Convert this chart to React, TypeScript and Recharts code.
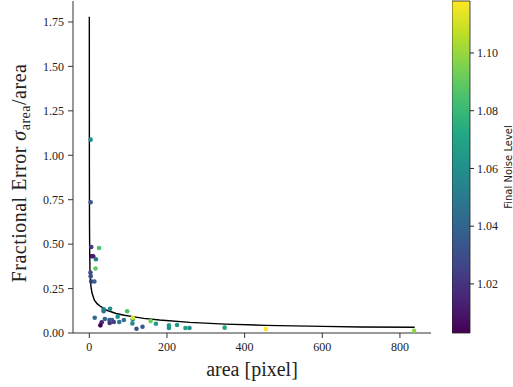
import React from 'react';
import { ComposedChart, Scatter, Line, XAxis, YAxis, ReferenceArea } from 'recharts';

// Fitted curve (area vs fractional error)
const curveX = [0.05, 0.1, 0.2, 0.5, 1, 1.8, 3, 4.3, 7, 13, 20, 30, 45, 69, 90, 112, 140, 181, 259, 350, 454, 600, 700, 838];
const curveY = [1.78, 1.3, 0.95, 0.62, 0.45, 0.353, 0.295, 0.26, 0.225, 0.185, 0.165, 0.148, 0.128, 0.11, 0.1, 0.092, 0.082, 0.073, 0.06, 0.05, 0.043, 0.037, 0.034, 0.032];

// Measured points
const pointX = [3.4, 3.5, 5, 25, 6, 10, 17, 16, 3, 3.5, 5, 13, 14, 37, 37, 53.5, 97.5, 73, 40, 32, 28.5, 52, 52.5, 58.5, 63, 77, 89, 112, 111, 112, 121.5, 137, 158, 171.5, 205, 205, 226, 247.5, 258, 348.5, 454.5, 836.5];
const pointY = [1.088, 0.736, 0.484, 0.478, 0.432, 0.432, 0.415, 0.363, 0.34, 0.32, 0.29, 0.29, 0.086, 0.133, 0.123, 0.136, 0.122, 0.092, 0.079, 0.06, 0.043, 0.073, 0.056, 0.073, 0.062, 0.062, 0.073, 0.077, 0.054, 0.086, 0.024, 0.035, 0.067, 0.052, 0.043, 0.028, 0.045, 0.028, 0.028, 0.03, 0.022, 0.013];
const pointNoise = [1.058, 1.035, 1.022, 1.085, 1.005, 1.012, 1.052, 1.09, 1.03, 1.03, 1.02, 1.04, 1.042, 1.055, 1.048, 1.06, 1.085, 1.062, 1.04, 1.015, 1.003, 1.035, 1.02, 1.04, 1.025, 1.048, 1.045, 1.06, 1.058, 1.112, 1.032, 1.035, 1.092, 1.065, 1.068, 1.06, 1.062, 1.068, 1.06, 1.07, 1.118, 1.098];

const xTicks = [0, 200, 400, 600, 800];
const yTicks = [0, 0.25, 0.5, 0.75, 1.0, 1.25, 1.5, 1.75];
const cbTicks = [1.02, 1.04, 1.06, 1.08, 1.1];
const NOISE_MIN = 1.003;
const NOISE_MAX = 1.118;

const VIRIDIS = ['#440154', '#482475', '#414487', '#355f8d', '#2a788e', '#21918c', '#22a884', '#44bf70', '#7ad151', '#bddf26', '#fde725'];

function hexToRgb(h: string) {
  return [parseInt(h.slice(1, 3), 16), parseInt(h.slice(3, 5), 16), parseInt(h.slice(5, 7), 16)];
}
function viridis(v: number) {
  let t = (v - NOISE_MIN) / (NOISE_MAX - NOISE_MIN);
  t = Math.max(0, Math.min(1, t));
  const f = t * (VIRIDIS.length - 1);
  const i = Math.min(VIRIDIS.length - 2, Math.floor(f));
  const r = f - i;
  const a = hexToRgb(VIRIDIS[i]);
  const b = hexToRgb(VIRIDIS[i + 1]);
  const c = a.map((av, k) => Math.round(av + (b[k] - av) * r));
  return `rgb(${c[0]},${c[1]},${c[2]})`;
}

const curveData = curveX.map((x, i) => ({ x, y: curveY[i] }));
const pointData = pointX.map((x, i) => ({ x, y: pointY[i], c: pointNoise[i] }));

const SERIF = '"Liberation Serif", "DejaVu Serif", serif';
const frame = '#333';
const TXT = '#222';

const Dot = (props: any) => {
  const { cx, cy, payload } = props;
  if (cx == null || cy == null) return null;
  return <circle cx={cx} cy={cy} r={2.3} fill={viridis(payload.c)} />;
};

const XTick = (props: any) => {
  const { x, y, payload } = props;
  return (
    <text x={x} y={y} dy="0.71em" textAnchor="middle" fontFamily={SERIF} fontSize={12} fill={TXT}>
      {String(payload.value)}
    </text>
  );
};

const YTick = (props: any) => {
  const { x, y, payload } = props;
  return (
    <text x={x} y={y} dy="0.355em" textAnchor="end" fontFamily={SERIF} fontSize={12} fill={TXT}>
      {Number(payload.value).toFixed(2)}
    </text>
  );
};

const CbTick = (props: any) => {
  const { x, y, payload } = props;
  return (
    <text x={x} y={y} dy="0.355em" textAnchor="start" fontFamily={SERIF} fontSize={12} fill={TXT}>
      {Number(payload.value).toFixed(2)}
    </text>
  );
};

const XLabel = (props: any) => {
  const vb = props.viewBox || { x: 73, y: 333, width: 358, height: 54 };
  return (
    <text x={vb.x + vb.width / 2} y={vb.y + 43} textAnchor="middle" fontFamily={SERIF} fontSize={20} fill={TXT}>
      area [pixel]
    </text>
  );
};

const YLabel = (props: any) => {
  const vb = props.viewBox || { x: 0, y: 1, width: 73, height: 332 };
  const cx = vb.x + 26;
  const cy = vb.y + vb.height / 2 + 6;
  return (
    <text transform={`translate(${cx},${cy}) rotate(-90)`} textAnchor="middle" fontFamily={SERIF} fontSize={20} fill={TXT} letterSpacing={0.5}>
      <tspan>Fractional Error </tspan>
      <tspan fontStyle="italic">σ</tspan>
      <tspan fontSize={14} dy={4}>area</tspan>
      <tspan dy={-4}>/area</tspan>
    </text>
  );
};

const CbLabel = (props: any) => {
  const vb = props.viewBox || { x: 18, y: 1, width: 43, height: 332 };
  return (
    <text transform={`translate(${vb.x + 41.5},${vb.y + vb.height / 2}) rotate(-90)`} textAnchor="middle" fontFamily='"DejaVu Sans", sans-serif' fontSize={10} fill={TXT}>
      Final Noise Level
    </text>
  );
};

export default function App() {
  return (
    <div style={{ position: 'absolute', left: 0, top: 0, width: 513, height: 387, background: '#fff' }}>
      <div style={{ position: 'absolute', left: 0, top: 0 }}>
        <ComposedChart width={513} height={387} margin={{ top: 1, right: 82, bottom: 0, left: 0 }}>
          <XAxis
            dataKey="x"
            type="number"
            domain={[-42, 880]}
            ticks={xTicks}
            allowDataOverflow
            height={54}
            tick={<XTick />}
            tickSize={5}
            tickMargin={4}
            stroke={frame}
            label={<XLabel />}
          />
          <XAxis xAxisId="top" orientation="top" type="number" domain={[-42, 880]} height={0} tick={false} tickLine={false} stroke={frame} />
          <YAxis
            type="number"
            domain={[0, 1.868]}
            ticks={yTicks}
            allowDataOverflow
            width={73}
            tick={<YTick />}
            tickSize={5}
            tickMargin={4}
            stroke={frame}
            label={<YLabel />}
          />
          <YAxis yAxisId="right" orientation="right" type="number" domain={[0, 1]} width={0} tick={false} tickLine={false} stroke={frame} />
          <Scatter data={pointData} dataKey="y" shape={<Dot />} isAnimationActive={false} />
          <Line data={curveData} dataKey="y" type="linear" stroke="#000" strokeWidth={1.4} dot={false} activeDot={false} isAnimationActive={false} />
        </ComposedChart>
      </div>
      <div style={{ position: 'absolute', left: 452, top: 0 }}>
        <ComposedChart width={61} height={387} margin={{ top: 1, right: 0, bottom: 54, left: 0 }}>
          <defs>
            <linearGradient id="viridisGrad" x1="0" y1="1" x2="0" y2="0">
              {VIRIDIS.map((c, i) => (
                <stop key={i} offset={`${(i / (VIRIDIS.length - 1)) * 100}%`} stopColor={c} />
              ))}
            </linearGradient>
          </defs>
          <XAxis type="number" dataKey="x" domain={[0, 1]} hide />
          <YAxis
            type="number"
            orientation="right"
            domain={[NOISE_MIN, NOISE_MAX]}
            ticks={cbTicks}
            allowDataOverflow
            width={43}
            tick={<CbTick />}
            tickSize={4}
            tickMargin={3}
            axisLine={false}
            stroke="#222"
            label={<CbLabel />}
          />
          <ReferenceArea x1={0} x2={1} y1={NOISE_MIN} y2={NOISE_MAX} fill="url(#viridisGrad)" fillOpacity={1} stroke="#222" strokeWidth={0.8} ifOverflow="extendDomain" />
        </ComposedChart>
      </div>
    </div>
  );
}
